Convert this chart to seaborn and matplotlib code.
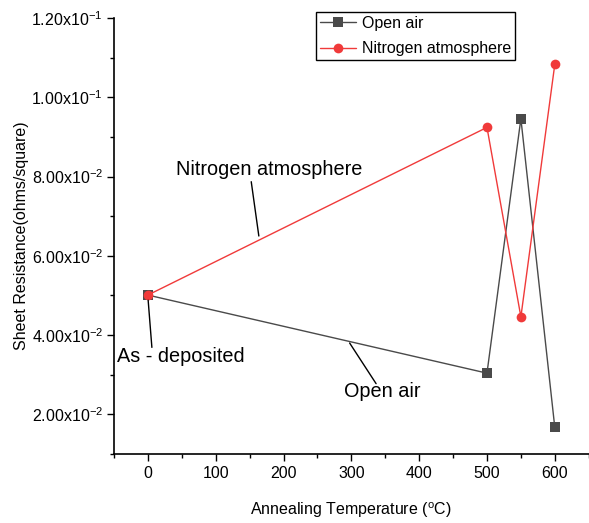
import matplotlib
matplotlib.use("Agg")
import matplotlib.pyplot as plt
import seaborn as sns
import pandas as pd
from matplotlib.ticker import MultipleLocator, FixedLocator

temps = [0, 500, 550, 600]
open_air = [0.0501, 0.0304, 0.0946, 0.0167]
nitrogen = [0.0501, 0.0924, 0.0446, 0.1083]
series_names = ["Open air", "Nitrogen atmosphere"]
yticks = [0.02, 0.04, 0.06, 0.08, 0.10, 0.12]
ytick_labels = [r"2.00x10$^{-2}$", r"4.00x10$^{-2}$", r"6.00x10$^{-2}$",
                r"8.00x10$^{-2}$", r"1.00x10$^{-1}$", r"1.20x10$^{-1}$"]
xticks = [0, 100, 200, 300, 400, 500, 600]

sns.set_style("ticks")
plt.rcParams['font.family'] = ['Liberation Sans', 'DejaVu Sans']
plt.rcParams['mathtext.fontset'] = 'custom'
plt.rcParams['mathtext.rm'] = 'Liberation Sans'
plt.rcParams['mathtext.it'] = 'Liberation Sans'
for k in ['text.color', 'axes.labelcolor', 'xtick.color', 'ytick.color', 'axes.edgecolor']:
    plt.rcParams[k] = 'black'

df = pd.DataFrame({
    "T": temps * 2,
    "R": open_air + nitrogen,
    "Series": [series_names[0]] * len(temps) + [series_names[1]] * len(temps),
})

fig = plt.figure(figsize=(5.89, 5.23), dpi=100)
ax = fig.add_axes([0.1935, 0.1319, 0.806, 0.8337])

gray = "#4a4a4a"
red = "#f03a3a"
sns.lineplot(data=df, x="T", y="R", hue="Series", style="Series",
             palette={series_names[0]: gray, series_names[1]: red},
             markers={series_names[0]: "s", series_names[1]: "o"},
             dashes=False, markersize=7, linewidth=1, markeredgewidth=0,
             sort=False, ax=ax)
ax.set_xlim(-50, 650)
ax.set_ylim(0.01, 0.12)
ax.xaxis.set_major_locator(FixedLocator(xticks))
ax.xaxis.set_minor_locator(MultipleLocator(50))
ax.yaxis.set_major_locator(FixedLocator(yticks))
ax.yaxis.set_minor_locator(MultipleLocator(0.01))
ax.set_yticklabels(ytick_labels)
ax.set_xticklabels([str(t) for t in xticks])
ax.tick_params(axis='both', which='major', direction='out', length=5, width=1, labelsize=11.5, color='black', labelcolor='black')
ax.tick_params(axis='both', which='minor', direction='out', length=3, width=1, color='black')
ax.tick_params(axis='y', pad=3)
for s in ["top", "right"]:
    ax.spines[s].set_visible(False)
for s in ["left", "bottom"]:
    ax.spines[s].set_linewidth(1.2)
    ax.spines[s].set_color("black")

ax.set_xlabel("Annealing Temperature ($^{\\rm o}$C)", fontsize=11.5, labelpad=14)
ax.set_ylabel("Sheet Resistance(ohms/square)", fontsize=11.5, labelpad=2)

leg = ax.legend(loc="upper left", bbox_to_anchor=(0.5365, 0.977),
                bbox_transform=fig.transFigure, frameon=True,
                fancybox=False, edgecolor="black", fontsize=11.5,
                handlelength=2.25, borderpad=0.25, labelspacing=0.65,
                handletextpad=0.35, borderaxespad=0, framealpha=1)
leg.get_frame().set_linewidth(1)

# annotation leader lines and labels
line_kw = dict(arrowstyle="-", color="black", lw=1, shrinkA=0, shrinkB=0)
ax.annotate("", xy=(163.6, 0.0650), xytext=(152.4, 0.0787), arrowprops=line_kw)
ax.text(179.3, 0.0819, "Nitrogen atmosphere", fontsize=14.3, ha="center", va="center")
ax.annotate("", xy=(297.5, 0.0380), xytext=(336.5, 0.02775), arrowprops=line_kw)
ax.text(346.3, 0.0258, "Open air", fontsize=14.3, ha="center", va="center")
ax.annotate("", xy=(0.4, 0.0488), xytext=(5.9, 0.0369), arrowprops=line_kw)
ax.text(48, 0.0345, "As - deposited", fontsize=14.3, ha="center", va="center")

fig.savefig("out.png", dpi=100)
